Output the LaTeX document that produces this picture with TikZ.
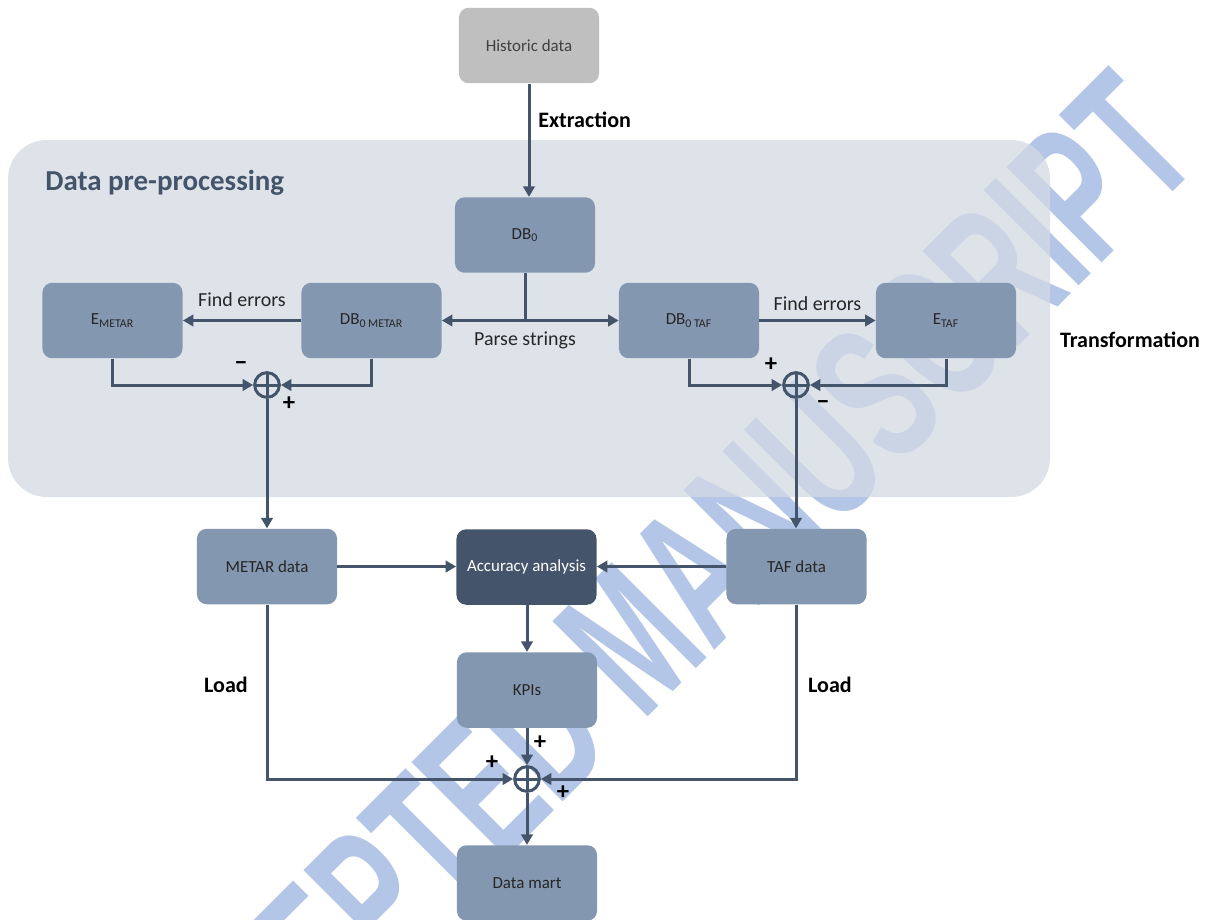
\documentclass[tikz,border=0pt]{standalone}
\usepackage{fontspec}
\setmainfont{Carlito}
\newfontfamily\wmfont{Liberation Sans}
\usetikzlibrary{arrows.meta}
\definecolor{panelc}{RGB}{211,218,227}
\definecolor{boxc}{RGB}{132,151,176}
\definecolor{darkc}{RGB}{68,84,106}
\definecolor{histc}{RGB}{191,191,191}
\definecolor{txtc}{RGB}{38,38,38}
\definecolor{wmc}{RGB}{180,198,231}
\tikzset{
  blk/.style={fill=boxc, rounded corners=5.5pt, minimum width=79.4pt, minimum height=42.8pt, inner sep=0pt, text=txtc, font=\fontsize{9.6}{11}\selectfont},
  darkblk/.style={blk, fill=darkc, text=white},
  histblk/.style={blk, fill=histc, text={rgb,255:red,64;green,64;blue,64}},
  ln/.style={draw=darkc, line width=1.7pt},
  arr/.style={ln, -{Triangle[length=6pt,width=6.5pt]}},
  sumc/.style={circle, draw=darkc, line width=1.7pt, minimum size=14pt, inner sep=0pt,
    path picture={\draw[darkc, line width=1.7pt] (path picture bounding box.north) -- (path picture bounding box.south) (path picture bounding box.west) -- (path picture bounding box.east);}},
  boldlbl/.style={font=\bfseries\fontsize{12.5}{15}\selectfont, text=black, inner sep=0pt},
  lbl/.style={font=\fontsize{11.3}{13}\selectfont, text=txtc, inner sep=0pt},
  sgn/.style={font=\bfseries\fontsize{14}{16}\selectfont, text=black, inner sep=0pt},
  wm/.style={transform shape, cm={0.431,0.431,-0.707,0.707,(0,0)}, text=wmc, inner sep=0pt,
    font=\wmfont\bfseries\fontsize{111}{111}\selectfont}
}
\begin{document}
\begin{tikzpicture}[x=0.567pt,y=-0.567pt]
\useasboundingbox (0,0) rectangle (1210,919);
\fill[white] (0,0) rectangle (1210,919);
% watermark
\node[wm, anchor=base east] (wmark) at (1205,160) {ACCEPTED MANUSCRIPT};
% panel
\fill[panelc, fill opacity=0.75, rounded corners=22pt] (8,140) rectangle (1050,497);
\node[anchor=west, inner sep=0pt, text=darkc, font=\bfseries\fontsize{16.4}{19}\selectfont] (title) at (45,183) {Data pre-processing};
% blocks
\node[histblk] (hist) at (529,45.5) {Historic data};
\node[blk] (db0) at (525,235) {DB\textsubscript{0}};
\node[blk] (emetar) at (112.5,320.5) {E\textsubscript{METAR}};
\node[blk] (dbm) at (371.5,320.5) {DB\textsubscript{0 METAR}};
\node[blk] (dbt) at (689,320.5) {DB\textsubscript{0 TAF}};
\node[blk] (etaf) at (946,320.5) {E\textsubscript{TAF}};
\node[blk] (metar) at (267,566.5) {METAR data};
\node[darkblk] (acc) at (526.5,567) {Accuracy analysis};
\node[blk] (taf) at (796.5,566.5) {TAF data};
\node[blk] (kpi) at (527,690) {KPIs};
\node[blk] (mart) at (527,883) {Data mart};
% sums
\node[sumc] (s1) at (267,385) {};
\node[sumc] (s2) at (796,385) {};
\node[sumc] (s3) at (527,779) {};
% connectors
\draw[arr] (hist.south) -- (hist.south |- db0.north);
\coordinate (split) at (db0.south |- dbm.east);
\draw[ln] (db0.south) -- (split);
\draw[arr] (split) -- (dbm.east);
\draw[arr] (split) -- (dbt.west);
\draw[arr] (dbm.west) -- (emetar.east) node[lbl, midway, above=7.2pt] (fe1) {Find errors};
\draw[arr] (dbt.east) -- (etaf.west) node[lbl, midway, above=4.8pt] (fe2) {Find errors};
\draw[arr] (emetar.south) |- (s1.west);
\draw[arr] (dbm.south) |- (s1.east);
\draw[arr] (dbt.south) |- (s2.west);
\draw[arr] (etaf.south) |- (s2.east);
\draw[arr] (s1.south) -- (s1.south |- metar.north);
\draw[arr] (s2.south) -- (s2.south |- taf.north);
\draw[arr] (metar.east) -- (metar.east -| acc.west);
\draw[arr] (taf.west) -- (taf.west -| acc.east);
\draw[arr] (acc.south -| kpi.north) -- (kpi.north);
\draw[arr] (metar.south) |- (s3.west);
\draw[arr] (taf.south) |- (s3.east);
\draw[arr] (kpi.south) -- (s3.north);
\draw[arr] (s3.south) -- (mart.north);
% labels
\node[boldlbl, anchor=west] (extr) at (538,120) {Extraction};
\node[lbl] (parse) at (525,340) {Parse strings};
\node[boldlbl] (transf) at (1130,340) {Transformation};
\node[boldlbl] (load1) at (226,685) {Load};
\node[boldlbl] (load2) at (830,685) {Load};
% signs
\node[sgn] (m1) at (241,366) {−};
\node[sgn] (p1) at (289,404) {+};
\node[sgn] (p2) at (771,365) {+};
\node[sgn] (m2) at (823,405) {−};
\node[sgn] (p3) at (540,743) {+};
\node[sgn] (p4) at (492,763) {+};
\node[sgn] (p5) at (563,793) {+};
\end{tikzpicture}
\end{document}
